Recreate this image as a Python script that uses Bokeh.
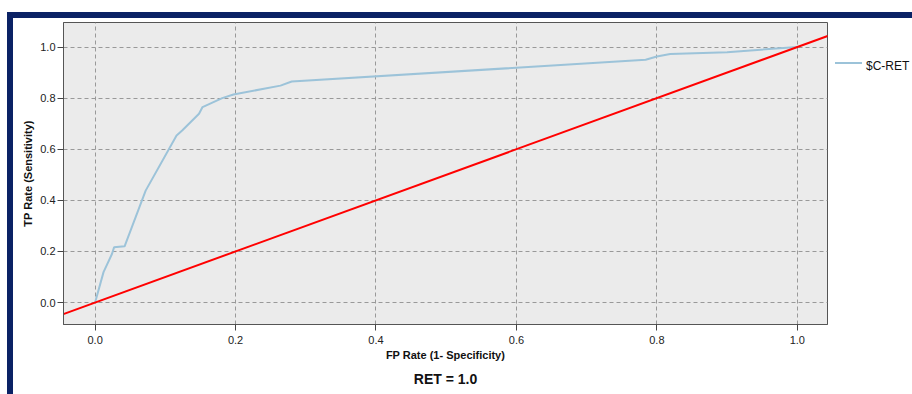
from bokeh.plotting import figure
from bokeh.models import Title, FixedTicker, PrintfTickFormatter, Div, Spacer
from bokeh.layouts import column, row
from bokeh.embed import file_html
from bokeh.resources import INLINE

# ROC curve values
fpr = [0.0, 0.012, 0.024, 0.027, 0.042, 0.072, 0.116, 0.124, 0.148, 0.153, 0.181, 0.197,
       0.264, 0.280, 0.784, 0.800, 0.819, 0.900, 1.0]
tpr = [0.0, 0.119, 0.190, 0.216, 0.220, 0.438, 0.654, 0.673, 0.739, 0.765, 0.800, 0.814,
       0.849, 0.865, 0.950, 0.963, 0.973, 0.980, 1.0]
diag_x = [-0.06, 1.06]
diag_y = [-0.06, 1.06]
ticks = [0.0, 0.2, 0.4, 0.6, 0.8, 1.0]
series_name = "$C-RET"
title_text = "RET = 1.0"

FONT = "Liberation Sans"
NAVY = "#0b2265"
ROC_COLOR = "#9cc3d9"

p = figure(width=818, height=376, output_backend="svg", toolbar_location=None,
           x_range=(-0.045, 1.043), y_range=(-0.086, 1.096),
           min_border_left=50, min_border_top=4, min_border_right=4, min_border_bottom=70)
p.background_fill_color = "#ebebeb"
p.border_fill_color = "white"
p.outline_line_color = "#555555"
p.outline_line_width = 1

for ax in (p.xaxis[0], p.yaxis[0]):
    ax.ticker = FixedTicker(ticks=ticks)
    ax.formatter = PrintfTickFormatter(format="%.1f")
    ax.minor_tick_line_color = None
    ax.major_tick_in = 0
    ax.major_tick_out = 6
    ax.axis_line_color = "#555555"
    ax.major_tick_line_color = "#444444"
    ax.major_label_text_font = FONT
    ax.major_label_text_font_size = "11px"
    ax.major_label_text_color = "#222222"
    ax.axis_label_text_font = FONT
    ax.axis_label_text_font_size = "11px"
    ax.axis_label_text_font_style = "bold"
    ax.axis_label_text_color = "#111111"

p.xaxis.axis_label = "FP Rate (1- Specificity)"
p.yaxis.axis_label = "TP Rate (Sensitivity)"
p.xaxis.major_label_standoff = 5
p.yaxis.major_label_standoff = 2
p.xaxis.axis_label_standoff = 2
p.yaxis.axis_label_standoff = 3

p.grid.grid_line_color = "#999999"
p.grid.grid_line_dash = "4 3"
p.grid.grid_line_width = 1
p.xgrid.ticker = FixedTicker(ticks=ticks)
p.ygrid.ticker = FixedTicker(ticks=ticks)

p.line(fpr, tpr, line_color=ROC_COLOR, line_width=2, legend_label=series_name)
p.line(diag_x, diag_y, line_color="#ff0000", line_width=2)
p.legend.visible = False  # the visible key is drawn beside the plot, outside its frame

p.add_layout(Title(text=title_text, align="center", text_font=FONT, text_font_size="14px",
                   text_font_style="bold", text_color="#111111", standoff=10), "below")

legend_html = (
    '<div style="position:relative;width:81px;height:80px;">'
    f'<div style="position:absolute;left:4px;top:44px;width:27px;height:0;'
    f'border-top:2px solid {ROC_COLOR};"></div>'
    f'<div style="position:absolute;left:35px;top:41px;font-family:\'{FONT}\';font-size:12px;'
    f'line-height:14px;color:#111111;white-space:nowrap;">{series_name}</div>'
    '</div>'
)
legend_div = Div(text=legend_html, width=81, height=376, margin=0, disable_math=True)

top_bar = Div(text="", width=905, height=6, margin=0, styles={"background-color": NAVY})
left_bar = Div(text="", width=6, height=376, margin=0, styles={"background-color": NAVY})

layout = column(
    Spacer(width=912, height=12, margin=0),
    row(Spacer(width=7, height=382, margin=0),
        column(top_bar, row(left_bar, p, legend_div, spacing=0), spacing=0),
        spacing=0),
    spacing=0)

open("out.html", "w").write(file_html(layout, INLINE))
